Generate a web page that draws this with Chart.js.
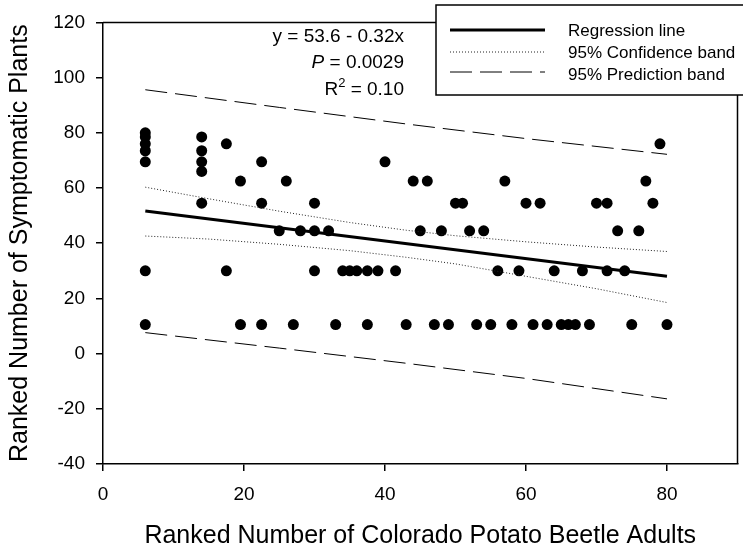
<!DOCTYPE html>
<html>
<head>
<meta charset="utf-8">
<script src="https://cdn.jsdelivr.net/npm/chart.js@4"></script>
<style>
  html, body { margin: 0; padding: 0; background: #fff; }
</style>
</head>
<body>
<canvas id="chart" width="743" height="552"></canvas>
<script>
// 観測点: 甲虫成虫の順位 (x) と発症株の順位 (y)
var beetleRanks = [
    6, 6, 6, 6, 6, 6, 6,
    14, 14, 14, 14, 14,
    17.5, 17.5, 19.5, 19.5,
    22.5, 22.5, 22.5,
    25, 26, 27, 28,
    30, 30, 30,
    32, 33, 34, 35, 36,
    37.5, 37.5,
    39, 40, 41.5, 43, 44, 45, 46, 47, 48, 49, 50,
    51, 52, 53, 54, 55, 56, 57, 58, 59, 60,
    61, 62, 63, 64, 65, 66, 67, 68, 69, 70,
    71.5, 71.5,
    73, 74, 75, 76, 77, 78, 79, 80
];
var plantRanks = [
    80, 78.5, 76, 73.5, 69.5, 30, 10.5,
    78.5, 73.5, 69.5, 66, 54.5,
    76, 30, 62.5, 10.5,
    69.5, 54.5, 10.5,
    44.5, 62.5, 10.5, 44.5,
    54.5, 44.5, 30,
    44.5, 10.5, 30, 30, 30,
    30, 10.5,
    30, 69.5, 30, 10.5, 62.5, 44.5, 62.5, 10.5, 44.5, 10.5, 54.5,
    54.5, 44.5, 10.5, 44.5, 10.5, 30, 62.5, 10.5, 30, 54.5,
    10.5, 54.5, 10.5, 30, 10.5, 10.5, 10.5, 30, 10.5, 54.5,
    54.5, 30,
    44.5, 30, 10.5, 44.5, 62.5, 54.5, 76, 10.5
];

// 回帰直線 (y = 53.6 - 0.32x)
var regX = [6, 80];
var regY = [51.7, 28.0];

// 95% 信頼帯
var confX = [6, 15, 25, 35, 43, 50, 60, 70, 80];
var confUpper = [60.3, 56.1, 51.6, 47.5, 44.7, 42.7, 40.5, 38.6, 37.0];
var confLower = [42.6, 41.5, 39.6, 37.3, 34.9, 32.5, 28.0, 23.5, 18.5];

// 95% 予測帯
var predX = [6, 25, 43, 60, 80];
var predUpper = [95.6, 89.2, 83.2, 77.9, 72.2];
var predLower = [7.6, 2.0, -3.5, -9.0, -16.4];

var xTicks = [0, 20, 40, 60, 80];

function toPoints(xs, ys) {
    var pts = [];
    for (var i = 0; i < xs.length; i++) {
        pts.push({ x: xs[i], y: ys[i] });
    }
    return pts;
}

var FONT = "'Liberation Sans', Arial, sans-serif";

// 枠線・凡例・回帰式の表示
var decorPlugin = {
    id: "decor",
    afterDraw: function (chart) {
        var ctx = chart.ctx;
        var a = chart.chartArea;
        ctx.save();
        ctx.strokeStyle = "#000";
        ctx.lineWidth = 1.5;
        ctx.beginPath();
        ctx.moveTo(a.left, a.top);
        ctx.lineTo(a.right, a.top);
        ctx.lineTo(a.right, a.bottom);
        ctx.stroke();

        // 凡例の枠
        ctx.fillStyle = "#fff";
        ctx.fillRect(436, 5, 330, 90);
        ctx.strokeRect(436, 5, 330, 90);

        ctx.beginPath();
        ctx.lineWidth = 3;
        ctx.moveTo(450, 30);
        ctx.lineTo(545, 30);
        ctx.stroke();

        ctx.beginPath();
        ctx.lineWidth = 1;
        ctx.strokeStyle = "#222";
        ctx.setLineDash([1, 2]);
        ctx.moveTo(450, 52);
        ctx.lineTo(545, 52);
        ctx.stroke();

        ctx.beginPath();
        ctx.strokeStyle = "#000";
        ctx.setLineDash([22, 8]);
        ctx.moveTo(450, 72);
        ctx.lineTo(545, 72);
        ctx.stroke();
        ctx.setLineDash([]);

        ctx.fillStyle = "#000";
        ctx.font = "17px " + FONT;
        ctx.textBaseline = "middle";
        ctx.textAlign = "left";
        ctx.fillText("Regression line", 568, 31);
        ctx.fillText("95% Confidence band", 568, 53);
        ctx.fillText("95% Prediction band", 568, 75);

        // 回帰式
        var rx = 404;
        ctx.textAlign = "right";
        ctx.font = "19px " + FONT;
        ctx.fillText("y = 53.6 - 0.32x", rx, 37);

        ctx.fillText(" = 0.0029", rx, 63);
        var w2 = ctx.measureText(" = 0.0029").width;
        ctx.font = "italic 19px " + FONT;
        ctx.fillText("P", rx - w2, 63);

        ctx.font = "19px " + FONT;
        ctx.fillText(" = 0.10", rx, 90);
        var w3 = ctx.measureText(" = 0.10").width;
        ctx.font = "13px " + FONT;
        ctx.fillText("2", rx - w3, 83);
        var wsup = ctx.measureText("2").width;
        ctx.font = "19px " + FONT;
        ctx.fillText("R", rx - w3 - wsup, 90);
        ctx.restore();
    }
};

var ctx = document.getElementById("chart");
var chart = new Chart(ctx, {
    type: "scatter",
    data: {
        datasets: [
            {
                label: "Regression line",
                type: "line",
                data: toPoints(regX, regY),
                borderColor: "#000",
                borderWidth: 3,
                pointRadius: 0,
                fill: false
            },
            {
                label: "95% Confidence band",
                type: "line",
                data: toPoints(confX, confUpper),
                borderColor: "#222",
                borderWidth: 1,
                borderDash: [1, 2],
                pointRadius: 0,
                fill: false
            },
            {
                label: "95% Confidence band lower",
                type: "line",
                data: toPoints(confX, confLower),
                borderColor: "#222",
                borderWidth: 1,
                borderDash: [1, 2],
                pointRadius: 0,
                fill: false
            },
            {
                label: "95% Prediction band",
                type: "line",
                data: toPoints(predX, predUpper),
                borderColor: "#000",
                borderWidth: 1,
                borderDash: [22, 8],
                pointRadius: 0,
                fill: false
            },
            {
                label: "95% Prediction band lower",
                type: "line",
                data: toPoints(predX, predLower),
                borderColor: "#000",
                borderWidth: 1,
                borderDash: [22, 8],
                pointRadius: 0,
                fill: false
            },
            {
                label: "Observations",
                data: toPoints(beetleRanks, plantRanks),
                backgroundColor: "#000",
                borderColor: "#000",
                pointRadius: 5.5,
                pointBorderWidth: 0
            }
        ]
    },
    options: {
        responsive: false,
        animation: false,
        devicePixelRatio: 1,
        layout: { padding: { top: 13, right: 1, left: 0, bottom: 0 } },
        plugins: {
            legend: { display: false },
            tooltip: { enabled: false }
        },
        scales: {
            x: {
                type: "linear",
                min: 0,
                max: 90,
                afterBuildTicks: function (s) {
                    s.ticks = xTicks.map(function (v) { return { value: v }; });
                },
                afterFit: function (s) { s.height = 88; },
                grid: { display: true, drawOnChartArea: false, drawTicks: true, tickLength: 7, color: "#000", lineWidth: 1.5 },
                border: { display: true, color: "#000", width: 1.5 },
                ticks: { color: "#000", font: { family: FONT, size: 19 }, padding: 12, maxRotation: 0 },
                title: {
                    display: true,
                    text: "Ranked Number of Colorado Potato Beetle Adults",
                    color: "#000",
                    font: { family: FONT, size: 25 },
                    padding: { top: 0, bottom: 1 }
                }
            },
            y: {
                type: "linear",
                min: -40,
                max: 120,
                ticks: { stepSize: 20, color: "#000", font: { family: FONT, size: 19 }, padding: 11 },
                afterFit: function (s) { s.width = 103; },
                grid: { display: true, drawOnChartArea: false, drawTicks: true, tickLength: 7, color: "#000", lineWidth: 1.5 },
                border: { display: true, color: "#000", width: 1.5 },
                title: {
                    display: true,
                    text: "Ranked Number of Symptomatic Plants",
                    color: "#000",
                    font: { family: FONT, size: 25 },
                    padding: { top: 5, bottom: 0 }
                }
            }
        }
    },
    plugins: [decorPlugin]
});
</script>
</body>
</html>
